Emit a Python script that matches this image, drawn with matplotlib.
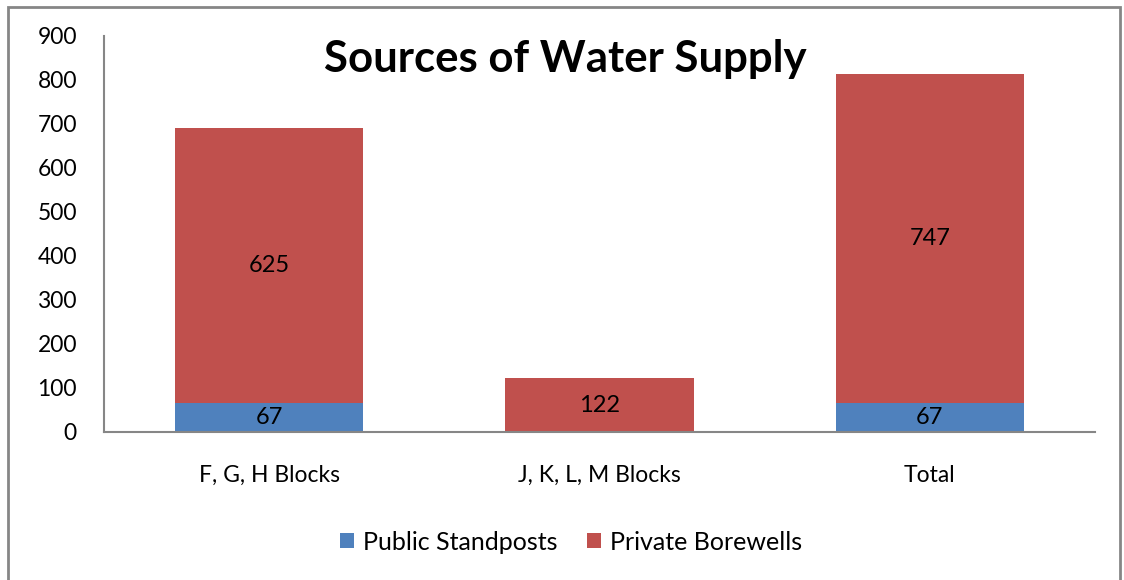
import matplotlib
matplotlib.use("Agg")
import matplotlib.pyplot as plt
from matplotlib.patches import Rectangle
import numpy as np

plt.rcParams['font.family'] = ['Lato', 'DejaVu Sans']

# chart data
categories = ["F, G, H Blocks", "J, K, L, M Blocks", "Total"]
public_standposts = [67, 0, 67]
private_borewells = [625, 122, 747]
series_names = ["Public Standposts", "Private Borewells"]
y_ticks = [0, 100, 200, 300, 400, 500, 600, 700, 800, 900]

blue = '#4F81BD'
red = '#C0504D'
grey = '#868686'


def main():
    fig = plt.figure(figsize=(11.24, 5.8), dpi=100)
    ax = fig.add_axes([104 / 1124, 1 - 432 / 580, (1095 - 104) / 1124, (432 - 36) / 580])

    x = np.arange(len(categories))
    width = 0.57
    bars1 = ax.bar(x, public_standposts, width, color=blue, label=series_names[0])
    bars2 = ax.bar(x, private_borewells, width, bottom=public_standposts, color=red,
                   label=series_names[1])

    # data labels centred in each segment, skip empty ones
    for bars, bottoms in ((bars1, [0] * len(x)), (bars2, public_standposts)):
        for rect, b in zip(bars, bottoms):
            h = rect.get_height()
            if h <= 0:
                continue
            ax.text(rect.get_x() + rect.get_width() / 2, b + h / 2, str(int(h)),
                    ha='center', va='center', fontsize=17, color='black')

    ax.set_xlim(-0.5, len(categories) - 0.5)
    ax.set_ylim(0, 900)
    ax.set_yticks(y_ticks)
    ax.set_xticks(x)
    ax.set_xticklabels(categories)
    ax.tick_params(axis='both', length=0, labelsize=16.5, colors='black')
    ax.tick_params(axis='y', pad=19.5)
    ax.tick_params(axis='x', pad=24)
    for lab in ax.get_yticklabels():
        lab.set_horizontalalignment('right')

    for side in ('top', 'right'):
        ax.spines[side].set_visible(False)
    for side in ('left', 'bottom'):
        ax.spines[side].set_color(grey)
        ax.spines[side].set_linewidth(1.5)

    fig.text(565 / 1124, 1 - 59 / 580, "Sources of Water Supply", ha='center', va='center',
             fontsize=31.5, fontweight='bold')

    fig.legend(loc='center', bbox_to_anchor=(571 / 1124, 1 - 542 / 580), ncol=2,
               frameon=False, fontsize=18, handlelength=0.55, handleheight=0.55,
               handletextpad=0.35, columnspacing=1.2)

    fig.patches.append(Rectangle((8 / 1124, -0.01), (1120 - 8) / 1124, 1 - 7 / 580 + 0.01,
                                 transform=fig.transFigure, fill=False,
                                 edgecolor=grey, linewidth=2))

    fig.savefig("out.png", dpi=100)


if __name__ == "__main__":
    main()
